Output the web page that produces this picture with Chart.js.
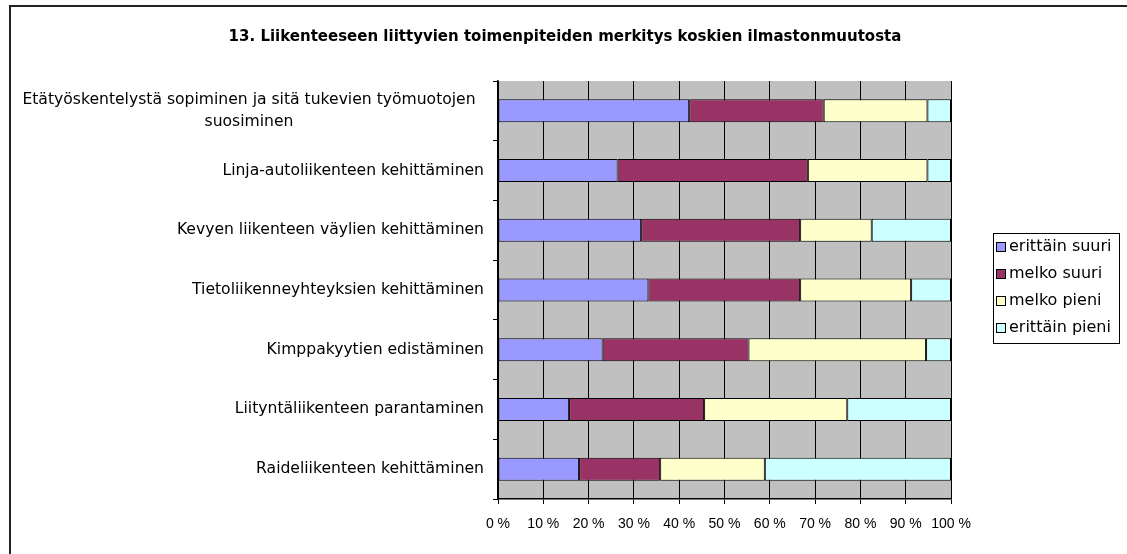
<!DOCTYPE html>
<html>
<head>
<meta charset="utf-8">
<script src="https://cdn.jsdelivr.net/npm/chart.js@4/dist/chart.umd.min.js"></script>
<style>
  html, body { margin: 0; padding: 0; background: #fff; }
  #wrap { width: 1127px; height: 554px; }
</style>
</head>
<body>
<div id="wrap"><canvas id="c" width="1127" height="554"></canvas></div>
<script>
const titleText = '13. Liikenteeseen liittyvien toimenpiteiden merkitys koskien ilmastonmuutosta';
const categories = [
  ['Etätyöskentelystä sopiminen ja sitä tukevien työmuotojen', 'suosiminen'],
  'Linja-autoliikenteen kehittäminen',
  'Kevyen liikenteen väylien kehittäminen',
  'Tietoliikenneyhteyksien kehittäminen',
  'Kimppakyytien edistäminen',
  'Liityntäliikenteen parantaminen',
  'Raideliikenteen kehittäminen'
];
const seriesNames = ['erittäin suuri', 'melko suuri', 'melko pieni', 'erittäin pieni'];
const erittainSuuri = [42.2, 26.4, 31.6, 33.2, 23.1, 15.7, 17.9];
const melkoSuuri    = [29.7, 42.0, 35.1, 33.5, 32.2, 29.8, 17.9];
const melkoPieni    = [22.9, 26.4, 15.8, 24.5, 39.2, 31.6, 23.1];
const erittainPieni = [5.2, 5.2, 17.5, 8.8, 5.5, 22.9, 41.1];
const xTicks = [0, 10, 20, 30, 40, 50, 60, 70, 80, 90, 100];
const colors = ['#9999FF', '#993366', '#FFFFCC', '#CCFFFF'];

const LABEL_FONT = '15.6px "DejaVu Sans"';

const deco = {
  id: 'deco',
  beforeDraw(chart) {
    const ctx = chart.ctx, a = chart.chartArea;
    ctx.save();
    ctx.fillStyle = '#ffffff';
    ctx.fillRect(0, 0, chart.width, chart.height);
    ctx.fillStyle = '#C0C0C0';
    ctx.fillRect(a.left, a.top, a.right - a.left, a.bottom - a.top);
    ctx.strokeStyle = '#222';
    ctx.lineWidth = 2;
    ctx.beginPath();
    ctx.moveTo(10, chart.height + 2);
    ctx.lineTo(10, 6);
    ctx.lineTo(chart.width + 2, 6);
    ctx.stroke();
    ctx.restore();
  },
  afterDraw(chart) {
    const ctx = chart.ctx;
    ctx.save();
    ctx.fillStyle = '#000';
    ctx.font = 'bold 15px "DejaVu Sans"';
    ctx.textAlign = 'center';
    ctx.textBaseline = 'middle';
    ctx.fillText(titleText, 565, 37);
    const ys = chart.scales.y;
    ctx.font = LABEL_FONT;
    categories.forEach((lab, i) => {
      const y = ys.getPixelForValue(i);
      if (Array.isArray(lab)) {
        ctx.textAlign = 'center';
        const lh = 22;
        const y0 = y - (lab.length - 1) * lh / 2;
        lab.forEach((ln, j) => ctx.fillText(ln, 249, y0 + j * lh));
      } else {
        ctx.textAlign = 'right';
        ctx.fillText(lab, 484, y);
      }
    });
    ctx.strokeStyle = '#000';
    ctx.lineWidth = 1;
    ctx.strokeRect(993.5, 233.5, 126, 110);
    ctx.font = '16px "DejaVu Sans"';
    ctx.textAlign = 'left';
    chart.data.datasets.forEach((ds, i) => {
      const cy = 247 + i * 27;
      ctx.fillStyle = ds.backgroundColor;
      ctx.fillRect(996.5, cy - 4.5, 9, 9);
      ctx.strokeRect(996.5, cy - 4.5, 9, 9);
      ctx.fillStyle = '#000';
      ctx.fillText(ds.label, 1009, cy);
    });
    ctx.restore();
  }
};

const seriesData = [erittainSuuri, melkoSuuri, melkoPieni, erittainPieni];

new Chart(document.getElementById('c'), {
  type: 'bar',
  data: {
    labels: categories,
    datasets: seriesNames.map((name, i) => ({
      label: name,
      data: seriesData[i],
      backgroundColor: colors[i],
      borderColor: '#000',
      borderWidth: 1,
      borderSkipped: false,
      categoryPercentage: 1,
      barPercentage: 0.385
    }))
  },
  options: {
    indexAxis: 'y',
    responsive: false,
    animation: false,
    devicePixelRatio: 1,
    layout: { padding: { left: 488, right: 176, top: 81, bottom: 0 } },
    plugins: { legend: { display: false }, tooltip: { enabled: false }, title: { display: false } },
    scales: {
      x: {
        stacked: true,
        min: 0, max: 100,
        afterBuildTicks(s) { s.ticks = xTicks.map(v => ({ value: v })); },
        ticks: {
          color: '#000',
          font: { family: 'Liberation Sans', size: 14 },
          padding: 12,
          maxRotation: 0,
          callback: v => v + ' %'
        },
        grid: { color: '#000', lineWidth: 1, drawTicks: true, tickLength: 5 },
        border: { color: '#000', width: 1.5 },
        afterFit(s) { s.height = 55; }
      },
      y: {
        stacked: true,
        offset: true,
        ticks: { display: false },
        grid: { drawOnChartArea: false, offset: true, drawTicks: true, tickLength: 5, color: '#000' },
        border: { color: '#000', width: 1.5 },
        afterFit(s) { s.width = 10; }
      }
    }
  },
  plugins: [deco]
});
</script>
</body>
</html>
